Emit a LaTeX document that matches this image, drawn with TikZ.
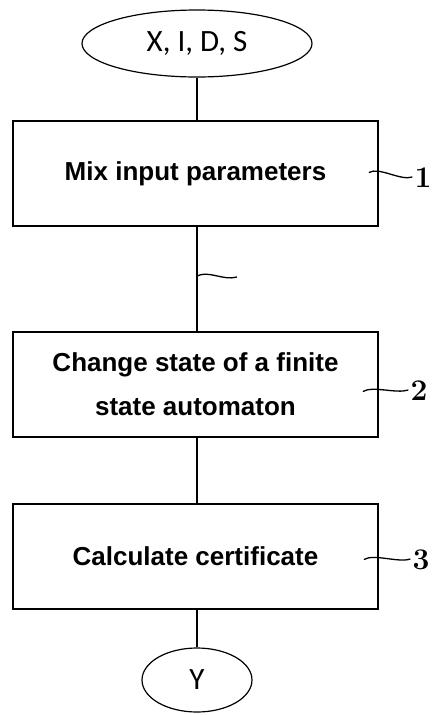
\documentclass[tikz,border=0pt]{standalone}
\usepackage{fontspec}
\setsansfont{Liberation Sans}
\newfontfamily\calfont{Carlito}
\usepackage{tikz}
\usetikzlibrary{arrows.meta, shapes.geometric, positioning}
\tikzset{every node/.append style={align=center}}
\tikzset{
  stepbox/.style={draw, line width=1.8pt, minimum width=365pt, minimum height=105pt,
                  inner sep=0pt, font=\sffamily\bfseries\fontsize{26}{44}\selectfont},
  terminal/.style={draw, ellipse, line width=1.2pt, inner sep=0pt,
                   font=\calfont\fontsize{31}{36}\selectfont},
  flow/.style={line width=2.6pt},
  leader/.style={line width=1.3pt},
  reflabel/.style={font=\bfseries\fontsize{30}{32}\selectfont, inner sep=0pt}
}

\begin{document}
\begin{tikzpicture}[x=1pt, y=-1pt]
\useasboundingbox (0,0) rectangle (433,715);

% ── Terminals ────────────────────────────────────────────────────────────────
\node[terminal, minimum width=230pt, minimum height=67pt] (inputs) at (197,43.5) {X, I, D, S};
\node[terminal, minimum width=110pt, minimum height=64pt] (result) at (197,680) {Y};

% ── Processing steps ─────────────────────────────────────────────────────────
\node[stepbox] (mix)  at (195.5,173.5) {Mix input parameters};
\node[stepbox] (fsa)  at (195.5,384.5) {Change state of a finite\\state automaton};
\node[stepbox] (cert) at (195.5,556.5) {Calculate certificate};

% Reference numerals
\node[reflabel] (lab1) at (423,178) {1};
\node[reflabel] (lab2) at (419,391) {2};
\node[reflabel] (lab3) at (421,560) {3};

% ── Flow lines ───────────────────────────────────────────────────────────────
\draw[flow] (inputs.south) -- (inputs.south |- mix.north);
\draw[flow] (mix.south -| inputs.south) -- (fsa.north -| inputs.south);
\draw[flow] (fsa.south -| inputs.south) -- (cert.north -| inputs.south);
\draw[flow] (cert.south -| inputs.south) -- (result.north);

% Leader lines to the numerals
\draw[leader] ([xshift=-10pt,yshift=1pt]mix.east)
  .. controls +(10,-6) and +(-12,4) .. ([xshift=-2pt,yshift=1pt]lab1.west);
\draw[leader] ([xshift=-16pt,yshift=-7pt]fsa.east)
  .. controls +(10,-6) and +(-12,4) .. ([xshift=-2pt,yshift=1pt]lab2.west);
\draw[leader] ([xshift=-15pt,yshift=-3pt]cert.east)
  .. controls +(10,-6) and +(-12,4) .. ([xshift=-2pt,yshift=1pt]lab3.west);

% Unlabelled leader on the middle flow line
\coordinate (midmark) at (197,276);
\coordinate (midend) at (237,277);
\draw[leader] (midmark) .. controls +(12,-6) and +(-14,4) .. (midend);

\end{tikzpicture}
\end{document}
